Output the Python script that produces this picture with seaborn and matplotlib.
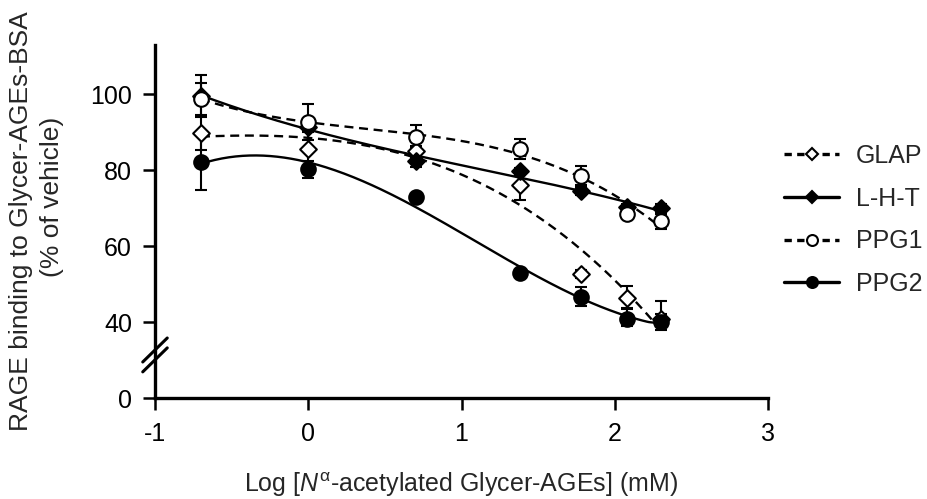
import numpy as np
import pandas as pd
import matplotlib
matplotlib.use("Agg")
import matplotlib.pyplot as plt
from matplotlib.lines import Line2D
import seaborn as sns

# ---- data ----
log_conc = [-0.70, 0.00, 0.70, 1.38, 1.78, 2.08, 2.30]
series_names = ["GLAP", "L-H-T", "PPG1", "PPG2"]
glap_mean = [89.8, 85.6, 85.0, 76.2, 52.6, 46.4, 40.8]
glap_err = [4.5, 4.5, 1.5, 4.0, 1.0, 3.0, 4.8]
lht_mean = [99.6, 91.5, 82.4, 79.7, 74.5, 70.2, 70.0]
lht_err = [5.6, 1.0, 1.5, 1.0, 1.0, 1.0, 1.0]
ppg1_mean = [98.8, 92.7, 88.8, 85.6, 78.6, 68.5, 66.6]
ppg1_err = [4.2, 4.8, 3.0, 2.6, 2.5, 1.0, 2.0]
ppg2_mean = [82.2, 80.2, 73.0, 53.0, 46.7, 40.8, 40.0]
ppg2_err = [7.5, 2.3, 0.5, 0.5, 2.5, 3.0, 2.0]
y_ticks = [0, 40, 60, 80, 100]
x_ticks = [-1, 0, 1, 2, 3]

means = {"GLAP": glap_mean, "L-H-T": lht_mean, "PPG1": ppg1_mean, "PPG2": ppg2_mean}
errs = {"GLAP": glap_err, "L-H-T": lht_err, "PPG1": ppg1_err, "PPG2": ppg2_err}

styles = {
    "GLAP": dict(marker="D", ms=8.5, fill="white", dashed=True),
    "L-H-T": dict(marker="D", ms=8.5, fill="black", dashed=False),
    "PPG1": dict(marker="o", ms=10.5, fill="white", dashed=True),
    "PPG2": dict(marker="o", ms=10.5, fill="black", dashed=False),
}
DASH = (3.8, 2.4)
FS = 18

sns.set_style("ticks")
plt.rcParams["font.family"] = ["Liberation Sans", "DejaVu Sans"]
plt.rcParams["mathtext.fontset"] = "custom"
plt.rcParams["mathtext.rm"] = "Liberation Sans"
plt.rcParams["mathtext.it"] = "Liberation Sans:italic"
plt.rcParams["font.size"] = FS

fig = plt.figure(figsize=(9.28, 4.99), dpi=100)
W, H = 928, 499
ax = fig.add_axes([155 / W, 1 - 398 / H, (768 - 155) / W, (398 - 45) / H])

# broken axis: values below 40 compressed by half
def fwd(v):
    v = np.asarray(v, dtype=float)
    return np.where(v < 40, v / 2.0, v - 20.0)

def inv(u):
    u = np.asarray(u, dtype=float)
    return np.where(u < 20, u * 2.0, u + 20.0)

ax.set_yscale("function", functions=(fwd, inv))

rows = []
for name in series_names:
    for x, m, e in zip(log_conc, means[name], errs[name]):
        rows.append(dict(series=name, x=x, y=m, err=e))
df = pd.DataFrame(rows)

# fitted curves (cubic polynomial fit of each series)
fit_rows = []
xs = np.linspace(min(log_conc), max(log_conc), 200)
for name in series_names:
    coef = np.polyfit(log_conc, means[name], 3)
    for xv, yv in zip(xs, np.polyval(coef, xs)):
        fit_rows.append(dict(series=name, x=xv, y=yv))
fit = pd.DataFrame(fit_rows)

for name in series_names:
    st = styles[name]
    sub = df[df.series == name]
    ax.errorbar(sub.x, sub.y, yerr=sub.err, fmt="none", ecolor="black",
                elinewidth=1.5, capsize=4, capthick=1.5, zorder=2)
    fsub = fit[fit.series == name]
    sns.lineplot(data=fsub, x="x", y="y", ax=ax, color="black", lw=1.7,
                 dashes=False, zorder=3, legend=False)
    if st["dashed"]:
        ax.lines[-1].set_dashes(DASH)

for name in series_names:
    st = styles[name]
    sub = df[df.series == name]
    sns.scatterplot(data=sub, x="x", y="y", ax=ax, marker=st["marker"],
                    s=st["ms"] ** 2, facecolor=st["fill"], edgecolor="black",
                    linewidth=1.5, zorder=4, legend=False)

ax.set_xlim(-1, 3)
ax.set_ylim(0, 113)
ax.set_xticks(x_ticks)
ax.set_xticklabels([str(t) for t in x_ticks])
ax.set_yticks(y_ticks)
ax.set_yticklabels([str(t) for t in y_ticks])
ax.yaxis.set_minor_locator(matplotlib.ticker.NullLocator())

for s in ["top", "right"]:
    ax.spines[s].set_visible(False)
for s in ["left", "bottom"]:
    ax.spines[s].set_linewidth(2.4)
    ax.spines[s].set_color("black")
ax.tick_params(axis="both", direction="out", length=8.5, width=1.8,
               colors="black", labelsize=FS)
ax.tick_params(axis="x", pad=9)
ax.tick_params(axis="y", pad=8)

ax.set_xlabel(r"Log [$\mathit{N}^{\mathrm{\alpha}}$-acetylated Glycer-AGEs] (mM)", fontsize=FS)
ax.xaxis.set_label_coords(0.5, -0.205)
ax.set_ylabel("")

fig.text(21 / W, 1 - 221 / H, "RAGE binding to Glycer-AGEs-BSA", rotation=90,
         ha="center", va="center", fontsize=19)
fig.text(52 / W, 1 - 197 / H, "(% of vehicle)", rotation=90,
         ha="center", va="center", fontsize=19)

# break marks on the y axis
for yc in (0.136, 0.108):
    ax.plot([-0.020, 0.020], [yc - 0.034, yc + 0.034], transform=ax.transAxes,
            color="black", lw=2.2, clip_on=False, zorder=5)

handles = []
for name in series_names:
    st = styles[name]
    h = Line2D([], [], color="black", lw=2.4, marker=st["marker"],
               markersize=st["ms"] * 0.75, markerfacecolor=st["fill"],
               markeredgecolor="black", markeredgewidth=1.5)
    if st["dashed"]:
        h.set_dashes((2.2, 1.6))
    handles.append(h)
fig.legend(handles, series_names, loc="center left",
           bbox_to_anchor=(762 / W, 1 - 220 / H), frameon=False,
           handlelength=2.2, handletextpad=0.65, labelspacing=0.75, fontsize=FS)

fig.savefig("out.png", dpi=100)
